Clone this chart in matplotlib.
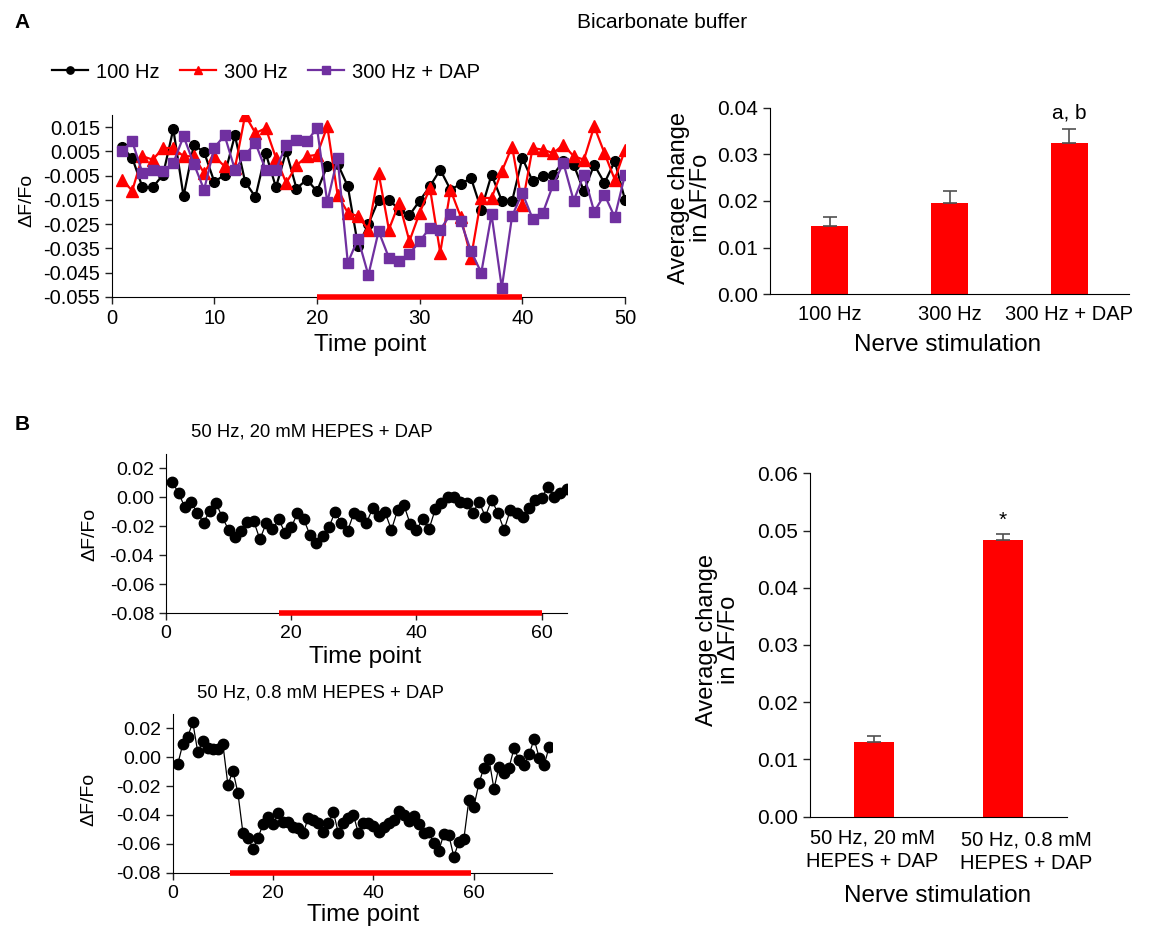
import numpy as np
import matplotlib
matplotlib.use('Agg')
import matplotlib.pyplot as plt
from matplotlib.ticker import FormatStrFormatter

plt.rcParams['font.family'] = ['Liberation Sans', 'DejaVu Sans']
plt.rcParams['axes.unicode_minus'] = False

W, H = 1154, 931

# panel A, bicarbonate buffer traces (time points 1..50)
time_a = np.arange(1, 51)
hz100 = [0.0068, 0.0023, -0.0098, -0.0098, -0.0046, 0.0142, -0.0135, 0.0077, 0.0047, -0.0076,
         -0.0046, 0.0116, -0.0076, -0.0138, 0.0043, -0.0098, 0.0050, -0.0103, -0.0066, -0.0114,
         -0.0009, 0.0000, -0.0094, -0.0340, -0.0250, -0.0149, -0.0149, -0.0190, -0.0213, -0.0153,
         -0.0094, -0.0025, -0.0108, -0.0084, -0.0060, -0.0190, -0.0046, -0.0153, -0.0155, 0.0023,
         -0.0073, -0.0050, -0.0046, 0.0009, -0.0005, -0.0114, -0.0005, -0.0080, 0.0009, -0.0149]
hz300 = [-0.0066, -0.0112, 0.0030, 0.0016, 0.0064, 0.0064, 0.0030, 0.0030, -0.0039, 0.0030,
         -0.0012, -0.0020, 0.0200, 0.0125, 0.0146, 0.0023, -0.0080, -0.0008, 0.0030, 0.0036,
         0.0153, -0.0128, -0.0203, -0.0217, -0.0272, -0.0039, -0.0272, -0.0162, -0.0320, -0.0203,
         -0.0101, -0.0368, -0.0108, -0.0220, -0.0388, -0.0142, -0.0142, -0.0032, 0.0070, -0.0169,
         0.0064, 0.0057, 0.0043, 0.0077, 0.0030, 0.0016, 0.0153, 0.0043, -0.0066, 0.0057]
hz300_dap = [0.0053, 0.0091, -0.0039, -0.0025, -0.0032, 0.0002, 0.0112, -0.0001, -0.0108, 0.0066,
             0.0116, -0.0025, 0.0036, 0.0084, -0.0025, -0.0025, 0.0077, 0.0098, 0.0091, 0.0146,
             -0.0160, 0.0023, -0.0409, -0.0309, -0.0460, -0.0279, -0.0388, -0.0402, -0.0372, -0.0320,
             -0.0265, -0.0272, -0.0210, -0.0238, -0.0361, -0.0450, -0.0210, -0.0512, -0.0217, -0.0121,
             -0.0227, -0.0203, -0.0087, 0.0002, -0.0153, -0.0046, -0.0199, -0.0128, -0.0221, -0.0046]
stim_a = [20, 40]

bar_a_labels = ['100 Hz', '300 Hz', '300 Hz + DAP']
bar_a_means = [0.0146, 0.0195, 0.0325]
bar_a_err = [0.0020, 0.0026, 0.0029]

# panel B, HEPES traces
time_b1 = np.arange(1, 65)
hepes20 = [0.0103, 0.0032, -0.0069, -0.0034, -0.0106, -0.0175, -0.0092, -0.0041, -0.0138, -0.0225,
           -0.0276, -0.0230, -0.0168, -0.0163, -0.0290, -0.0179, -0.0221, -0.0152, -0.0244, -0.0207,
           -0.0110, -0.0152, -0.0260, -0.0313, -0.0267, -0.0207, -0.0103, -0.0175, -0.0232, -0.0110,
           -0.0129, -0.0179, -0.0076, -0.0129, -0.0103, -0.0225, -0.0087, -0.0053, -0.0184, -0.0225,
           -0.0149, -0.0221, -0.0083, -0.0041, 0.0000, 0.0005, -0.0030, -0.0041, -0.0110, -0.0030,
           -0.0133, -0.0018, -0.0106, -0.0225, -0.0087, -0.0110, -0.0133, -0.0076, -0.0018, -0.0007,
           0.0074, 0.0005, 0.0032, 0.0057]
stim_b1 = [18, 60]

time_b2 = np.arange(1, 76)
hepes08 = [-0.0049, 0.0089, 0.0142, 0.0242, 0.0034, 0.0115, 0.0062, 0.0057, 0.0057, 0.0089,
           -0.0192, -0.0093, -0.0250, -0.0527, -0.0557, -0.0635, -0.0557, -0.0465, -0.0412, -0.0465,
           -0.0389, -0.0446, -0.0451, -0.0481, -0.0492, -0.0527, -0.0419, -0.0435, -0.0458, -0.0515,
           -0.0458, -0.0377, -0.0527, -0.0458, -0.0423, -0.0400, -0.0527, -0.0458, -0.0458, -0.0475,
           -0.0515, -0.0480, -0.0458, -0.0435, -0.0372, -0.0400, -0.0442, -0.0405, -0.0465, -0.0527,
           -0.0515, -0.0596, -0.0649, -0.0534, -0.0538, -0.0689, -0.0589, -0.0566, -0.0296, -0.0342,
           -0.0181, -0.0072, -0.0012, -0.0220, -0.0065, -0.0111, -0.0072, 0.0062, -0.0019, -0.0054,
           0.0020, 0.0126, -0.0003, -0.0054, 0.0073]
stim_b2 = [11.5, 59.5]

bar_b_labels = ['50 Hz, 20 mM\nHEPES + DAP', '50 Hz, 0.8 mM\nHEPES + DAP']
bar_b_means = [0.0130, 0.0483]
bar_b_err = [0.0011, 0.0011]

RED = '#ff0000'
PURPLE = '#7030a0'
GREY = '#505050'


def box(l, t, r, b):
    """ pixel box -> figure fraction rect """
    return [l / W, 1 - b / H, (r - l) / W, (b - t) / H]


def ftext(x, y, s, **kw):
    """ text placed in pixel coords of the figure """
    fig.text(x / W, 1 - y / H, s, ha=kw.pop('ha', 'center'), va=kw.pop('va', 'center'), **kw)


def style_axes(ax, tick_size):
    for side in ['top', 'right']:
        ax.spines[side].set_visible(False)
    ax.tick_params(labelsize=tick_size, width=1, length=5, color='#222222')


def stim_bar(ax, span, y):
    ax.plot(span, [y, y], color=RED, lw=4, solid_capstyle='butt', clip_on=False, zorder=5)


fig = plt.figure(figsize=(W / 100, H / 100), dpi=100)

# A: traces
ax1 = fig.add_axes(box(111.7, 115, 625, 297))
ax1.plot(time_a, hz100, '-o', color='black', lw=1.6, ms=7, label='100 Hz')
ax1.plot(time_a, hz300, '-^', color=RED, lw=1.6, ms=8, label='300 Hz')
ax1.plot(time_a, hz300_dap, '-s', color=PURPLE, lw=1.6, ms=7.5, label='300 Hz + DAP')
stim_bar(ax1, stim_a, -0.055)
ax1.set_xlim(0, 50)
ax1.set_ylim(-0.055, 0.020)
ax1.set_xticks(np.arange(0, 51, 10))
ax1.set_yticks(np.arange(-0.055, 0.016, 0.01))
ax1.yaxis.set_major_formatter(FormatStrFormatter('%.3f'))
style_axes(ax1, 14.5)
fig.legend(*ax1.get_legend_handles_labels(), loc='center', bbox_to_anchor=(266 / W, 1 - 72 / H),
           ncol=3, frameon=False, fontsize=14.5, handlelength=1.8, handletextpad=0.4,
           columnspacing=1.0, markerscale=0.75)

# A: bars
ax2 = fig.add_axes(box(770, 107.7, 1129, 294.3))
xa = np.arange(len(bar_a_labels))
ax2.bar(xa, bar_a_means, width=0.31, color=RED,
        yerr=[np.zeros(len(xa)), bar_a_err], error_kw=dict(ecolor=GREY, capsize=5, elinewidth=1.2, capthick=1.2))
ax2.set_xlim(-0.5, 2.5)
ax2.set_ylim(0, 0.04)
ax2.set_yticks(np.arange(0, 0.041, 0.01))
ax2.yaxis.set_major_formatter(FormatStrFormatter('%.2f'))
ax2.set_xticks(xa)
ax2.set_xticklabels(bar_a_labels)
style_axes(ax2, 15)
ax2.tick_params(axis='x', length=0, labelsize=14.5, pad=8)
ax2.text(2, 0.0376, 'a, b', ha='center', va='baseline', fontsize=15)

# B: 20 mM HEPES trace
ax3 = fig.add_axes(box(166, 453.8, 566.7, 613.3))
ax3.plot(time_b1, hepes20, '-o', color='black', lw=0.9, ms=7.5)
stim_bar(ax3, stim_b1, -0.08)
ax3.set_xlim(0, 64)
ax3.set_ylim(-0.08, 0.03)
ax3.set_xticks([0, 20, 40, 60])
ax3.set_yticks(np.arange(-0.08, 0.021, 0.02))
ax3.yaxis.set_major_formatter(FormatStrFormatter('%.2f'))
style_axes(ax3, 14)

# B: 0.8 mM HEPES trace
ax4 = fig.add_axes(box(172.7, 713.9, 551.7, 872.7))
ax4.plot(time_b2, hepes08, '-o', color='black', lw=0.9, ms=7.5)
stim_bar(ax4, stim_b2, -0.08)
ax4.set_xlim(0, 75.5)
ax4.set_ylim(-0.08, 0.03)
ax4.set_xticks([0, 20, 40, 60])
ax4.set_yticks(np.arange(-0.08, 0.021, 0.02))
ax4.yaxis.set_major_formatter(FormatStrFormatter('%.2f'))
style_axes(ax4, 14)

# B: bars
ax5 = fig.add_axes(box(810, 473.3, 1067, 816.7))
xb = np.arange(len(bar_b_labels))
ax5.bar(xb, bar_b_means, width=0.31, color=RED,
        yerr=[np.zeros(len(xb)), bar_b_err], error_kw=dict(ecolor=GREY, capsize=5, elinewidth=1.2, capthick=1.2))
ax5.set_xlim(-0.5, 1.5)
ax5.set_ylim(0, 0.06)
ax5.set_yticks(np.arange(0, 0.061, 0.01))
ax5.yaxis.set_major_formatter(FormatStrFormatter('%.2f'))
ax5.set_xticks([])
style_axes(ax5, 15)
ax5.text(1, 0.0508, '*', ha='center', va='baseline', fontsize=15)

# category labels of the lower bar chart sit a bit apart in the original
ftext(872, 850, bar_b_labels[0], fontsize=14.5, linespacing=1.3)
ftext(1026, 852, bar_b_labels[1], fontsize=14.5, linespacing=1.3)

# labels and titles
ftext(22, 22, 'A', fontsize=15, fontweight='bold')
ftext(22, 425, 'B', fontsize=15, fontweight='bold')
ftext(662, 22, 'Bicarbonate buffer', fontsize=15)
ftext(312, 432, '50 Hz, 20 mM HEPES + DAP', fontsize=13.3)
ftext(320, 693, '50 Hz, 0.8 mM HEPES + DAP', fontsize=13.3)

ftext(370, 345, 'Time point', fontsize=17.5)
ftext(365, 657, 'Time point', fontsize=17.5)
ftext(363, 915, 'Time point', fontsize=17.5)
ftext(948, 345, 'Nerve stimulation', fontsize=17.5)
ftext(938, 896, 'Nerve stimulation', fontsize=17.5)

ftext(27, 200, '\u0394F/Fo', fontsize=14, rotation=90)
ftext(90, 534, '\u0394F/Fo', fontsize=14, rotation=90)
ftext(89, 799, '\u0394F/Fo', fontsize=14, rotation=90)
ftext(690, 198, 'Average change\nin \u0394F/Fo', fontsize=17, rotation=90, linespacing=0.95)
ftext(718, 640, 'Average change\nin \u0394F/Fo', fontsize=17, rotation=90, linespacing=1.0)

fig.savefig('out.png', dpi=100)
